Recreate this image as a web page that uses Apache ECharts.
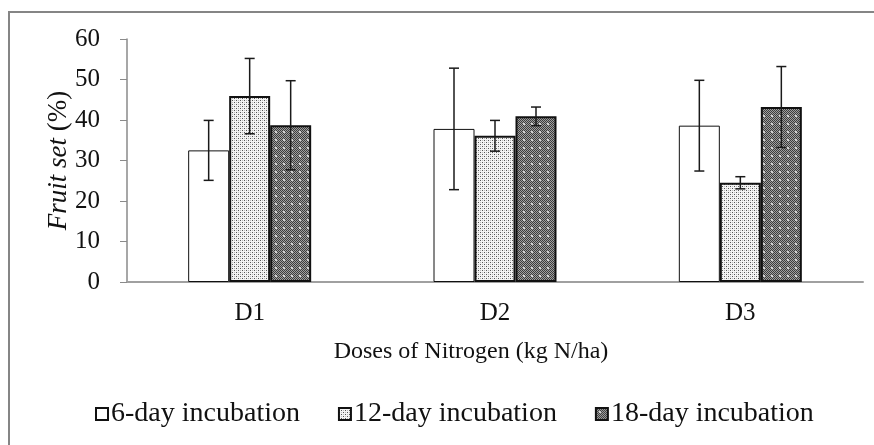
<!DOCTYPE html>
<html>
<head>
<meta charset="utf-8">
<script src="https://cdn.jsdelivr.net/npm/echarts@6/dist/echarts.min.js"></script>
<style>
  html, body { margin: 0; padding: 0; background: #fff; }
  #chart { width: 874px; height: 445px; }
</style>
</head>
<body>
<div id="chart"></div>
<script>
const categories = ['D1', 'D2', 'D3']
const seriesNames = ['6-day incubation', '12-day incubation', '18-day incubation']
const day6 = [32.5, 37.8, 38.6]
const day12 = [45.9, 36.1, 24.5]
const day18 = [38.7, 40.9, 43.2]
const err6 = [7.4, 15.0, 11.2]
const err12 = [9.3, 3.8, 1.5]
const err18 = [11.0, 2.3, 10.0]

const FONT = "'Liberation Serif', 'Times New Roman', serif"
const BAR_W = 41

// small canvas fills that imitate the print hatch patterns
function makePattern(size, draw) {
  const c = document.createElement('canvas')
  c.width = size
  c.height = size
  const ctx = c.getContext('2d')
  draw(ctx)
  return { image: c, repeat: 'repeat' }
}

const lightDots = makePattern(4, ctx => {
  ctx.fillStyle = '#f4f4f4'
  ctx.fillRect(0, 0, 4, 4)
  ctx.fillStyle = '#555555'
  ctx.fillRect(0, 0, 1, 1)
  ctx.fillRect(2, 2, 1, 1)
  ctx.fillStyle = '#bbbbbb'
  ctx.fillRect(2, 0, 1, 1)
  ctx.fillRect(0, 2, 1, 1)
})

const darkChecker = makePattern(8, ctx => {
  for (let y = 0; y < 8; y++) {
    for (let x = 0; x < 8; x++) {
      ctx.fillStyle = (x + y) % 2 === 0 ? '#3c3c3c' : '#a0a0a0'
      ctx.fillRect(x, y, 1, 1)
    }
  }
  ctx.fillStyle = '#d0d0d0'
  ctx.fillRect(3, 3, 2, 2)
})

const chart = echarts.init(document.getElementById('chart'))

const values = [day6, day12, day18]
const errors = [err6, err12, err18]
const fills = ['#ffffff', lightDots, darkChecker]
const borders = [1, 2, 2]
const offsets = [-BAR_W, 0, BAR_W]

const barSeries = values.map((vals, i) => ({
  name: seriesNames[i],
  type: 'bar',
  data: vals,
  barWidth: BAR_W,
  barGap: '0%',
  itemStyle: {
    color: fills[i],
    borderColor: '#111',
    borderWidth: borders[i]
  },
  z: 2
}))

const errSeries = values.map((vals, i) => ({
  type: 'custom',
  name: seriesNames[i] + ' err',
  data: vals.map((v, k) => [k, v - errors[i][k], v + errors[i][k]]),
  z: 5,
  silent: true,
  renderItem: (params, api) => {
    const x = api.coord([api.value(0), 0])[0] + offsets[i]
    const yLo = api.coord([api.value(0), api.value(1)])[1]
    const yHi = api.coord([api.value(0), api.value(2)])[1]
    const cap = 5
    const style = { stroke: '#1a1a1a', lineWidth: 1.5 }
    return {
      type: 'group',
      children: [
        { type: 'line', shape: { x1: x, y1: yHi, x2: x, y2: yLo }, style },
        { type: 'line', shape: { x1: x - cap, y1: yHi, x2: x + cap, y2: yHi }, style },
        { type: 'line', shape: { x1: x - cap, y1: yLo, x2: x + cap, y2: yLo }, style }
      ]
    }
  }
}))

const option = {
  animation: false,
  backgroundColor: '#ffffff',
  textStyle: { fontFamily: FONT },
  graphic: [{
    type: 'rect',
    shape: { x: 9, y: 12, width: 900, height: 500 },
    style: { fill: null, stroke: '#858585', lineWidth: 2 },
    silent: true
  }],
  grid: { left: 127, right: 11, top: 39, bottom: 163 },
  legend: {
    data: seriesNames,
    bottom: 12,
    left: 90,
    icon: 'rect',
    itemWidth: 12,
    itemHeight: 12,
    itemGap: 38,
    textStyle: { fontFamily: FONT, fontSize: 28, color: '#111', padding: [0, 0, 0, -2] }
  },
  xAxis: {
    type: 'category',
    data: categories,
    name: 'Doses of Nitrogen (kg N/ha)',
    nameLocation: 'middle',
    nameGap: 58,
    nameMoveOverlap: false,
    nameTextStyle: { fontFamily: FONT, fontSize: 24, color: '#111', padding: [0, 48, 0, 0] },
    axisLine: { lineStyle: { color: '#a0a0a0', width: 2 } },
    axisTick: { show: false },
    axisLabel: { fontFamily: FONT, fontSize: 25, color: '#111', margin: 19 }
  },
  yAxis: {
    type: 'value',
    min: 0,
    max: 60,
    interval: 10,
    name: '{i|Fruit set} {n|(%)}',
    nameLocation: 'middle',
    nameGap: 55,
    nameMoveOverlap: false,
    nameTextStyle: {
      fontFamily: FONT,
      fontSize: 27,
      color: '#111',
      rich: {
        i: { fontFamily: FONT, fontSize: 27, fontStyle: 'italic', color: '#111' },
        n: { fontFamily: FONT, fontSize: 27, color: '#111' }
      }
    },
    axisLine: { show: true, lineStyle: { color: '#8a8a8a', width: 1.5 } },
    axisTick: { show: true, inside: false, length: 7, lineStyle: { color: '#8a8a8a' } },
    splitLine: { show: false },
    axisLabel: { fontFamily: FONT, fontSize: 25, color: '#111', margin: 27 }
  },
  series: [...barSeries, ...errSeries]
}

chart.setOption(option)
</script>
</body>
</html>
